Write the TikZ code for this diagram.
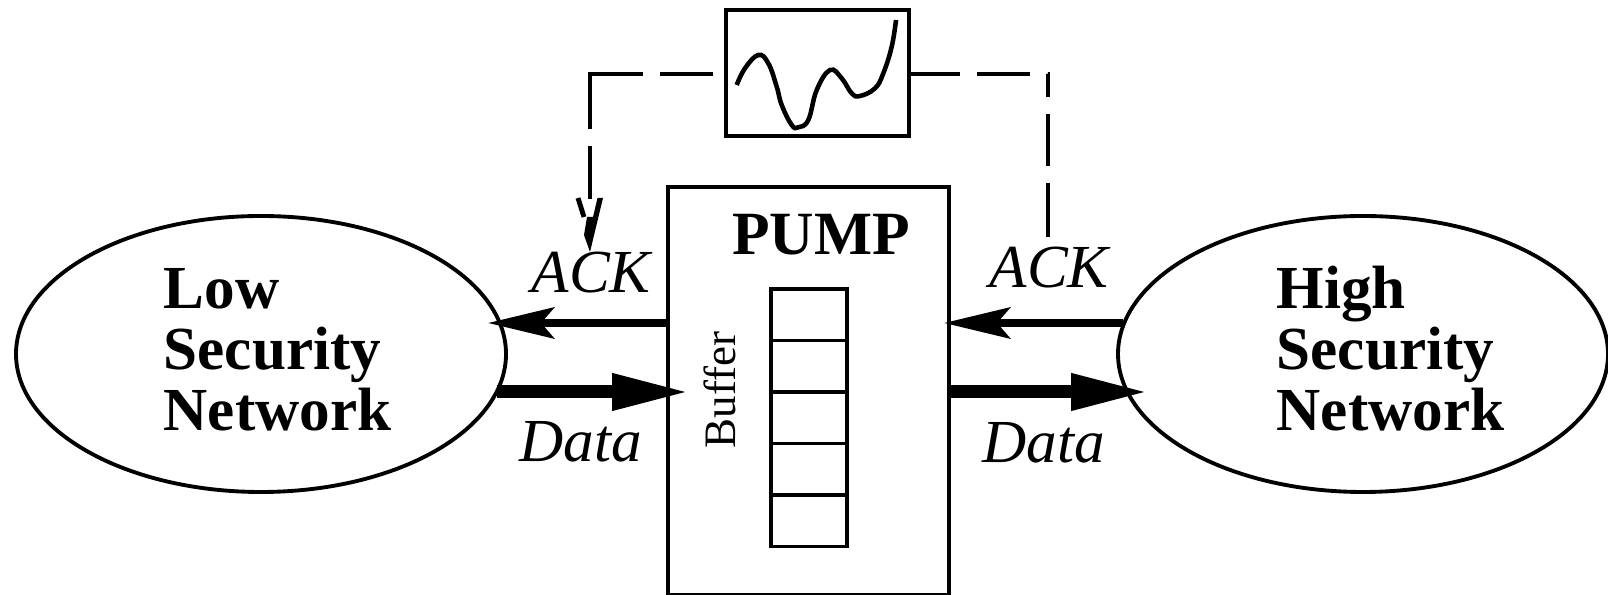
\documentclass[tikz,border=0pt]{standalone}
\usepackage{fontspec}
\setmainfont{Liberation Serif}
\usetikzlibrary{
        shapes.geometric,
        positioning,
        arrows.meta
    }

\begin{document}
\begin{tikzpicture}
[baseshape/.style={draw=black, line width=1.1pt, outer sep=0pt, inner sep=0pt},
netshape/.style={baseshape, ellipse, minimum width=4.9cm, minimum height=2.76cm},
cellbox/.style={baseshape, rectangle, minimum width=0.76cm, minimum height=0.515cm},
nettext/.style={font=\fontsize{17.4pt}{17.4pt}\selectfont\bfseries, align=left, anchor=base west, inner sep=0pt},
arrowtext/.style={font=\fontsize{17.4pt}{20pt}\selectfont\itshape, anchor=base west, inner sep=0pt},
ackarrow/.style={line width=2.3pt, -{Stealth[length=0.66cm, width=0.31cm, inset=0.13cm]}},
dataarrow/.style={line width=3.7pt, -{Triangle[length=0.78cm, width=0.34cm]}},
feedback/.style={line width=1.1pt},
]
\useasboundingbox (0,0) rectangle (16.08,5.95);

\node (lownet) [netshape] at (2.61,2.41) {};
\node (highnet) [netshape] at (13.63,2.41) {};
\node (pump) [baseshape, rectangle, minimum width=2.81cm, minimum height=4.08cm] at (8.085,2.04) {};
\node (filter) [baseshape, rectangle, minimum width=1.83cm, minimum height=1.26cm] at (8.175,5.22) {};

\node (cell1) [cellbox] at (8.09,2.803) {};
\node (cell2) [cellbox, below=0pt of cell1] {};
\node (cell3) [cellbox, below=0pt of cell2] {};
\node (cell4) [cellbox, below=0pt of cell3] {};
\node (cell5) [cellbox, below=0pt of cell4] {};

\node (lowtext) [nettext] at (1.63,1.64) {Low\\Security\\Network};
\node (hightext) [nettext] at (12.76,1.64) {High\\Security\\Network};
\node (pumptext) [font=\fontsize{17.5pt}{20pt}\selectfont\bfseries, anchor=base, inner sep=0pt] at (8.21,3.40) {PUMP};
\node (buffertext) [font=\fontsize{12.8pt}{15pt}\selectfont, anchor=base, rotate=90, inner sep=0pt] at (7.35,2.05) {Buffer};
\node (lowack) [arrowtext] at (5.31,3.02) {ACK};
\node (highack) [arrowtext] at (9.89,3.07) {ACK};
\node (lowdata) [arrowtext] at (5.19,1.33) {Data};
\node (highdata) [arrowtext] at (9.82,1.32) {Data};

\coordinate (lowacktip) at (4.88,2.72);
\coordinate (lowdatafoot) at (4.97,2.03);
\coordinate (lowdatatip) at (6.90,2.03);
\coordinate (highackfoot) at (11.23,2.72);
\coordinate (highacktip) at (9.44,2.72);
\coordinate (highdatatip) at (11.49,2.03);
\coordinate (lowfeedstart) at (7.13,5.21);
\coordinate (lowfeed) at (5.90,5.21);
\coordinate (feedstem) at (5.90,3.95);
\coordinate (feedtip) at (5.90,3.43);
\coordinate (highfeed) at (10.48,5.21);
\coordinate (highfeedfoot) at (10.48,3.58);

\draw[ackarrow] (pump.west |- lowacktip) -- (lowacktip);
\draw[dataarrow] (lowdatafoot) -- (lowdatatip);
\draw[ackarrow] (highackfoot) -- (highacktip);
\draw[dataarrow] (pump.east |- highdatatip) -- (highdatatip);

% filter curve
\draw[line width=1.3pt] plot[smooth, tension=0.7] coordinates {(7.367,5.10) (7.45,5.267) (7.583,5.40) (7.683,5.317) (7.767,5.083) (7.817,4.90) (7.917,4.70) (7.983,4.677) (8.083,4.75) (8.167,5.05) (8.30,5.25) (8.417,5.167) (8.517,5.017) (8.60,4.99) (8.75,5.067) (8.833,5.217) (8.917,5.483) (8.96,5.75)};

% feedback paths
\draw[feedback, dash pattern=on 15.1pt off 4.8pt on 15.1pt off 0pt on 15.6pt off 5pt on 15.1pt] (lowfeedstart) -- (lowfeed) -- (feedstem);
\fill (feedtip) -- ++(0.13,0.54) -- ++(-0.055,0) -- ++(-0.045,-0.19) -- ++(-0.06,0) -- ++(-0.03,-0.18) -- cycle;
\draw[line width=1.4pt] (feedtip) ++(-0.12,0.54) -- ++(0.06,-0.19);
\draw[feedback, dash pattern=on 14.5pt off 4.8pt on 15.1pt off 5.1pt on 6.5pt off 4.8pt on 14.8pt off 5.1pt on 15.1pt] (filter.east |- highfeed) -- (highfeed) -- (highfeedfoot);
\end{tikzpicture}
\end{document}
